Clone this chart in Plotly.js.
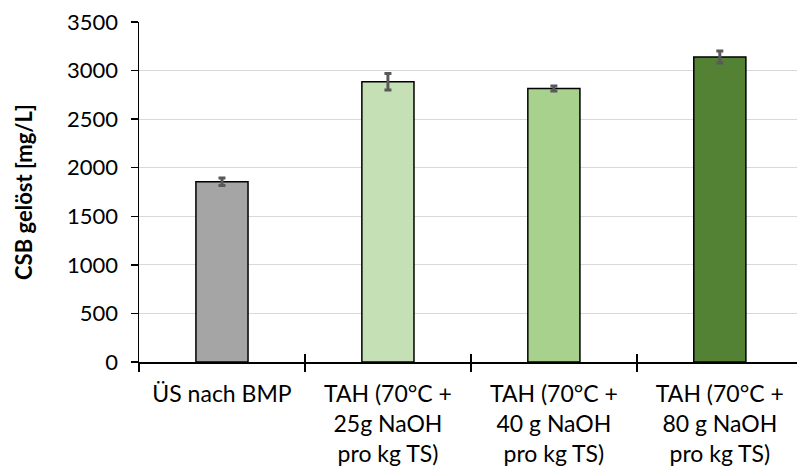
<!DOCTYPE html>
<html>
<head>
<meta charset="utf-8">
<script src="https://cdn.plot.ly/plotly-3.0.1.min.js"></script>
<style>
  html, body { margin: 0; padding: 0; background: #fff; }
  #chart { width: 797px; height: 467px; }
</style>
</head>
<body>
<div id="chart"></div>
<script>
// Gelöster CSB nach Vorbehandlung
const categories = [
  "ÜS nach BMP",
  "TAH (70°C +<br>25g NaOH<br>pro kg TS)",
  "TAH (70°C +<br>40 g NaOH<br>pro kg TS)",
  "TAH (70°C +<br>80 g NaOH<br>pro kg TS)"
];
const csbValues = [1856, 2885, 2815, 3140];
const csbErrors = [38, 85, 25, 62];
const barColors = ["#A5A5A5", "#C5E0B4", "#A9D18E", "#548235"];
const yTicks = [0, 500, 1000, 1500, 2000, 2500, 3000, 3500];

const fontFamily = "Lato, 'Open Sans', sans-serif";
const xRange = [-0.5, 3.465];

const bars = {
  type: "bar",
  x: categories,
  y: csbValues,
  width: 0.314,
  marker: { color: barColors, line: { color: "#000000", width: 1.5 } },
  error_y: {
    type: "data",
    array: csbErrors,
    visible: true,
    color: "#595959",
    thickness: 3,
    width: 3.5
  },
  hoverinfo: "x+y"
};

// invisible trace on an overlaid axis, used only for the inner half of the cross ticks
const innerTicks = {
  type: "bar",
  x: categories,
  y: csbValues.map(() => 0),
  xaxis: "x2",
  yaxis: "y",
  showlegend: false,
  hoverinfo: "skip",
  marker: { color: "rgba(0,0,0,0)" }
};

const layout = {
  width: 797,
  height: 467,
  margin: { l: 139, r: 0, t: 22, b: 105 },
  paper_bgcolor: "#ffffff",
  plot_bgcolor: "#ffffff",
  showlegend: false,
  font: { family: fontFamily, size: 21, color: "#000000" },
  xaxis: {
    type: "category",
    range: xRange,
    showline: true,
    linecolor: "#000000",
    linewidth: 1.5,
    ticks: "outside",
    tickson: "boundaries",
    ticklen: 8,
    tickwidth: 1.5,
    tickcolor: "#000000",
    showgrid: false,
    tickfont: { family: fontFamily, size: 23, color: "#000000" },
    ticklabelstandoff: 11,
    fixedrange: true
  },
  xaxis2: {
    type: "category",
    overlaying: "x",
    range: xRange,
    anchor: "y",
    side: "bottom",
    ticks: "inside",
    tickson: "boundaries",
    ticklen: 8,
    tickwidth: 1.5,
    tickcolor: "#000000",
    showticklabels: false,
    showline: false,
    showgrid: false,
    fixedrange: true
  },
  yaxis: {
    range: [0, 3500],
    tickvals: yTicks,
    ticktext: yTicks.map(String),
    showline: true,
    linecolor: "#000000",
    linewidth: 1.5,
    ticks: "outside",
    ticklen: 7,
    tickwidth: 1.5,
    tickcolor: "#000000",
    showgrid: true,
    gridcolor: "#D9D9D9",
    gridwidth: 1.2,
    zeroline: false,
    tickfont: { family: fontFamily, size: 22, color: "#000000" },
    ticklabelstandoff: 8,
    title: {
      text: "<b>CSB gelöst [mg/L]</b>",
      font: { family: fontFamily, size: 22, color: "#000000" },
      standoff: 28
    },
    fixedrange: true
  },
  bargap: 0.686
};

Plotly.newPlot("chart", [bars, innerTicks], layout, { displayModeBar: false, staticPlot: true });
</script>
</body>
</html>
